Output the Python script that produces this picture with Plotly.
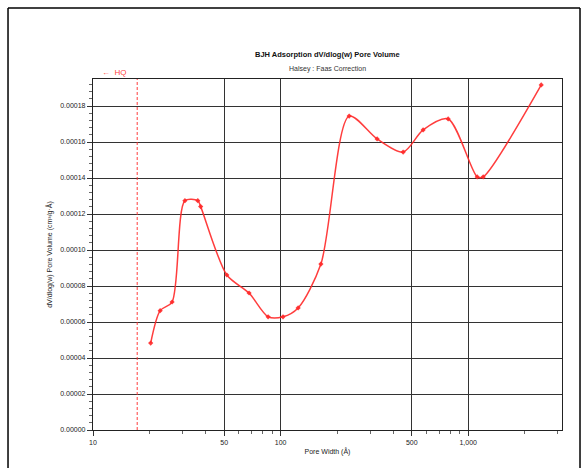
import plotly.graph_objects as go

# Data
pore_width = [20.3, 22.8, 26.4, 30.9, 36.2, 37.5, 51.7, 67.9, 85.8, 103, 124, 164,
              232, 327, 450, 575, 782, 1117, 1202, 2451]
pore_volume = [4.83e-5, 6.63e-5, 7.11e-5, 1.274e-4, 1.274e-4, 1.241e-4, 8.61e-5,
               7.61e-5, 6.29e-5, 6.29e-5, 6.78e-5, 9.22e-5, 1.744e-4, 1.617e-4,
               1.544e-4, 1.667e-4, 1.728e-4, 1.406e-4, 1.406e-4, 1.917e-4]
hq_x = [17.2, 17.2]
hq_y = [0, 1.95e-4]

x_tickvals = [10, 50, 100, 500, 1000]
x_ticktext = ["10", "50", "100", "500", "1,000"]
y_tickvals = [0, 2e-5, 4e-5, 6e-5, 8e-5, 1e-4, 1.2e-4, 1.4e-4, 1.6e-4, 1.8e-4]

RED = "rgba(255,40,40,0.9)"
FONT = "Liberation Sans"

fig = go.Figure()
fig.add_trace(go.Scatter(x=hq_x, y=hq_y, mode="lines",
                         line=dict(color=RED, width=1, dash="3px,2px"),
                         showlegend=False, hoverinfo="skip"))
fig.add_trace(go.Scatter(x=pore_width, y=pore_volume, mode="lines+markers",
                         line=dict(color=RED, width=1.5, shape="spline", smoothing=0.8),
                         marker=dict(color=RED, size=4, symbol="diamond"),
                         showlegend=False))

fig.update_layout(
    width=587, height=468,
    margin=dict(l=93, r=25, t=79, b=38),
    paper_bgcolor="white", plot_bgcolor="white",
    font=dict(family=FONT, size=7, color="#222"),
    xaxis=dict(type="log", range=[1, 3.5],
               tickvals=x_tickvals, ticktext=x_ticktext,
               ticks="outside", ticklen=5, tickcolor="#333",
               showgrid=True, gridcolor="#333", gridwidth=1.2,
               showline=True, linecolor="#222", linewidth=1.2, mirror=True,
               zeroline=False,
               minor=dict(tickvals=[20, 30, 40, 60, 70, 80, 90, 200, 300, 400,
                                    600, 700, 800, 900, 2000, 3000],
                          ticks="outside", ticklen=3, tickcolor="#666", showgrid=False),
               title=dict(text="Pore Width (Å)", font=dict(size=7), standoff=4)),
    yaxis=dict(range=[0, 1.95e-4], tickvals=y_tickvals, tickformat=".5f",
               ticks="outside", ticklen=5, tickcolor="#333",
               showgrid=True, gridcolor="#333", gridwidth=1.2,
               showline=True, linecolor="#222", linewidth=1.2, mirror=True,
               zeroline=False,
               minor=dict(dtick=4e-6, ticks="outside", ticklen=3, tickcolor="#666",
                          showgrid=False),
               title=dict(text="dV/dlog(w) Pore Volume (cm³/g·Å)", font=dict(size=7),
                          standoff=6)),
)

fig.add_annotation(text="<b>BJH Adsorption dV/dlog(w) Pore Volume</b>",
                   xref="paper", yref="paper", x=0.5, y=1.0875,
                   showarrow=False, font=dict(size=7.5, color="#111"))
fig.add_annotation(text="Halsey : Faas Correction",
                   xref="paper", yref="paper", x=0.5, y=1.0456,
                   showarrow=False, font=dict(size=7, color="#333"))
fig.add_annotation(text="←  HQ", xref="paper", yref="paper", x=0.015, y=1.0,
                   xanchor="left", yanchor="bottom", showarrow=False,
                   font=dict(size=8, color=RED))

# outer frame
for x0, y0, x1, y1 in [(-0.1812, 1.2023, 1.0384, 1.2023),
                       (-0.1812, -0.12, -0.1812, 1.2023),
                       (1.0384, -0.12, 1.0384, 1.2023)]:
    fig.add_shape(type="line", xref="paper", yref="paper", x0=x0, y0=y0, x1=x1, y1=y1,
                  line=dict(color="black", width=1.5))

fig.write_html("out.html")
